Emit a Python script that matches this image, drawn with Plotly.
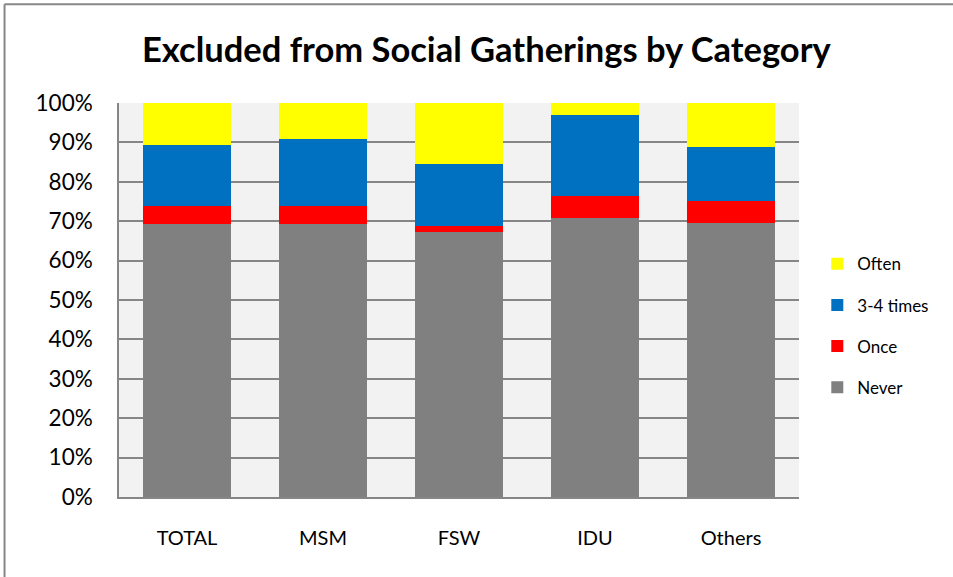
import plotly.graph_objects as go

categories = ["TOTAL", "MSM", "FSW", "IDU", "Others"]
never = [69.2, 69.3, 67.3, 70.7, 69.6]
once = [4.6, 4.6, 1.5, 5.8, 5.6]
three_four = [15.5, 16.9, 15.6, 20.5, 13.6]
often = [10.7, 9.2, 15.6, 3.0, 11.2]

series = [
    ("Never", never, "#808080", 4),
    ("Once", once, "#FF0000", 3),
    ("3-4 times", three_four, "#0070C0", 2),
    ("Often", often, "#FFFF00", 1),
]

FONT = "Lato"
fig = go.Figure()
for name, vals, col, rank in series:
    fig.add_trace(go.Bar(
        x=categories, y=vals, name=name, marker_color=col,
        marker_line_width=0, legendgroup=name, legendrank=rank,
    ))

L, R, T, B = 118.5, 154.3, 102.7, 80.3
W, H = 953, 577
pw = W - L - R
ph = H - T - B

fig.update_layout(
    width=W, height=H,
    barmode="stack", bargap=0.355,
    paper_bgcolor="white", plot_bgcolor="#F2F2F2",
    margin=dict(l=L, r=R, t=T, b=B, autoexpand=False),
    font=dict(family=FONT, color="black"),
    title=dict(text="<b>Excluded from Social Gatherings by Category</b>",
               x=(486 - L) / pw, xref="paper", xanchor="center",
               y=1 - 50 / H, yanchor="middle",
               font=dict(size=34.5, family=FONT, color="black")),
    legend=dict(x=(817 - L) / pw, xanchor="left", y=(H - B - 246) / ph,
                yref="paper", yanchor="top",
                traceorder="grouped", tracegroupgap=16,
                font=dict(size=17, family=FONT), itemwidth=30,
                bgcolor="rgba(0,0,0,0)"),
    showlegend=True,
)
fig.update_yaxes(range=[0, 100], tickvals=list(range(0, 101, 10)),
                 ticktext=[f"{v}%" for v in range(0, 101, 10)],
                 showgrid=True, gridcolor="#868686", gridwidth=1.5,
                 showline=True, linecolor="#868686", linewidth=1.5,
                 ticks="", tickfont=dict(size=22.5, family=FONT),
                 ticklabelstandoff=20, zeroline=False, fixedrange=True)
fig.update_xaxes(showline=True, linecolor="#868686", linewidth=1.5,
                 ticks="", tickfont=dict(size=20, family=FONT),
                 ticklabelstandoff=22, showgrid=False)

# outer chart border (top and left)
x0 = (4 - L) / pw
y0 = (H - B - 4) / ph
fig.add_shape(type="line", xref="paper", yref="paper",
              x0=x0, x1=(W + 5 - L) / pw, y0=y0, y1=y0,
              line=dict(color="#878787", width=2))
fig.add_shape(type="line", xref="paper", yref="paper",
              x0=x0, x1=x0, y0=y0, y1=-(B + 5) / ph,
              line=dict(color="#878787", width=2))

fig.write_html("out.html", config={"displayModeBar": False},
               post_script="document.body.style.margin='0';document.body.style.overflow='hidden';")
